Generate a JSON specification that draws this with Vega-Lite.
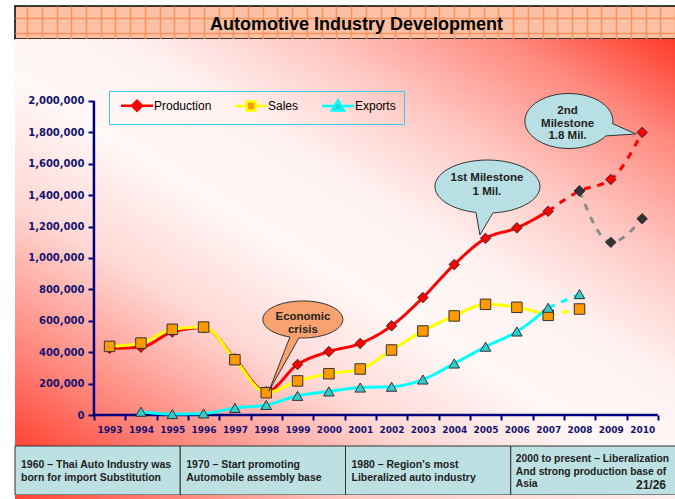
{
  "$schema": "https://vega.github.io/schema/vega-lite/v6.json",
  "padding": {"left": 14, "top": 5, "right": 0, "bottom": 0},
  "background": "white",
  "spacing": 0,
  "bounds": "flush",
  "config": {"view": {"stroke": "#000"}, "font": "Liberation Sans"},
  "datasets": {
    "banner": [{"title": "Automotive Industry Development"}],
    "series": [
      {"year": 1993, "series": "Production", "kind": "actual", "value": 424000},
      {"year": 1994, "series": "Production", "kind": "actual", "value": 432000},
      {"year": 1995, "series": "Production", "kind": "actual", "value": 528000},
      {"year": 1996, "series": "Production", "kind": "actual", "value": 556000},
      {"year": 1997, "series": "Production", "kind": "actual", "value": 358000},
      {"year": 1998, "series": "Production", "kind": "actual", "value": 148000},
      {"year": 1999, "series": "Production", "kind": "actual", "value": 322000},
      {"year": 2000, "series": "Production", "kind": "actual", "value": 404000},
      {"year": 2001, "series": "Production", "kind": "actual", "value": 456000},
      {"year": 2002, "series": "Production", "kind": "actual", "value": 568000},
      {"year": 2003, "series": "Production", "kind": "actual", "value": 748000},
      {"year": 2004, "series": "Production", "kind": "actual", "value": 958000},
      {"year": 2005, "series": "Production", "kind": "actual", "value": 1125000},
      {"year": 2006, "series": "Production", "kind": "actual", "value": 1192000},
      {"year": 2007, "series": "Production", "kind": "actual", "value": 1298000},
      {"year": 1993, "series": "Sales", "kind": "actual", "value": 437000},
      {"year": 1994, "series": "Sales", "kind": "actual", "value": 458000},
      {"year": 1995, "series": "Sales", "kind": "actual", "value": 546000},
      {"year": 1996, "series": "Sales", "kind": "actual", "value": 560000},
      {"year": 1997, "series": "Sales", "kind": "actual", "value": 352000},
      {"year": 1998, "series": "Sales", "kind": "actual", "value": 142000},
      {"year": 1999, "series": "Sales", "kind": "actual", "value": 217000},
      {"year": 2000, "series": "Sales", "kind": "actual", "value": 263000},
      {"year": 2001, "series": "Sales", "kind": "actual", "value": 293000},
      {"year": 2002, "series": "Sales", "kind": "actual", "value": 414000},
      {"year": 2003, "series": "Sales", "kind": "actual", "value": 535000},
      {"year": 2004, "series": "Sales", "kind": "actual", "value": 631000},
      {"year": 2005, "series": "Sales", "kind": "actual", "value": 705000},
      {"year": 2006, "series": "Sales", "kind": "actual", "value": 686000},
      {"year": 2007, "series": "Sales", "kind": "actual", "value": 635000},
      {"year": 1994, "series": "Exports", "kind": "actual", "value": 21000},
      {"year": 1995, "series": "Exports", "kind": "actual", "value": 6000},
      {"year": 1996, "series": "Exports", "kind": "actual", "value": 10000},
      {"year": 1997, "series": "Exports", "kind": "actual", "value": 45000},
      {"year": 1998, "series": "Exports", "kind": "actual", "value": 64000},
      {"year": 1999, "series": "Exports", "kind": "actual", "value": 122000},
      {"year": 2000, "series": "Exports", "kind": "actual", "value": 150000},
      {"year": 2001, "series": "Exports", "kind": "actual", "value": 175000},
      {"year": 2002, "series": "Exports", "kind": "actual", "value": 180000},
      {"year": 2003, "series": "Exports", "kind": "actual", "value": 226000},
      {"year": 2004, "series": "Exports", "kind": "actual", "value": 328000},
      {"year": 2005, "series": "Exports", "kind": "actual", "value": 435000},
      {"year": 2006, "series": "Exports", "kind": "actual", "value": 532000},
      {"year": 2007, "series": "Exports", "kind": "actual", "value": 683000},
      {"year": 2007, "series": "Production", "kind": "forecast", "value": 1298000},
      {"year": 2008, "series": "Production", "kind": "forecast", "value": 1427000},
      {"year": 2009, "series": "Production", "kind": "forecast", "value": 1500000},
      {"year": 2010, "series": "Production", "kind": "forecast", "value": 1800000},
      {"year": 2007, "series": "Sales", "kind": "forecast", "value": 635000},
      {"year": 2008, "series": "Sales", "kind": "forecast", "value": 675000},
      {"year": 2007, "series": "Exports", "kind": "forecast", "value": 683000},
      {"year": 2008, "series": "Exports", "kind": "forecast", "value": 770000},
      {"year": 2008, "series": "Revised", "kind": "forecast", "value": 1427000},
      {"year": 2009, "series": "Revised", "kind": "forecast", "value": 1100000},
      {"year": 2010, "series": "Revised", "kind": "forecast", "value": 1250000}
    ],
    "callouts": [
      {"note": "crisis", "year": 1998, "value": 148000, "label": ["Economic", "crisis"]},
      {"note": "m1", "year": 2005, "value": 1125000, "label": ["1st Milestone", "1 Mil."]},
      {"note": "m2", "year": 2010, "value": 1800000, "label": ["2nd", "Milestone", "1.8 Mil."]}
    ],
    "boxes": [
      {"era": "1960", "lines": ["1960 – Thai Auto Industry was", "born for import Substitution"], "page": null},
      {"era": "1970", "lines": ["1970 – Start  promoting", "Automobile assembly base"], "page": null},
      {"era": "1980", "lines": ["1980 – Region’s most", "Liberalized auto industry"], "page": null},
      {"era": "2000", "lines": ["2000 to present – Liberalization", "And strong production base of", "Asia"], "page": "21/26"}
    ]
  },
  "vconcat": [
    {
      "width": 661,
      "height": 33,
      "view": {"fill": "#fcc1a4", "stroke": "#000", "strokeWidth": 1.5},
      "data": {"name": "banner"},
      "layer": [
        {
          "mark": {"type": "point", "opacity": 0},
          "encoding": {
            "x": {"datum": 0, "type": "quantitative", "scale": {"domain": [-0.82, 44.06], "nice": false, "zero": false},
              "axis": {"values": [0,1,2,3,4,5,6,7,8,9,10,11,12,13,14,15,16,17,18,19,20,21,22,23,24,25,26,27,28,29,30,31,32,33,34,35,36,37,38,39,40,41,42,43,44], "grid": true, "gridColor": "#f6935e", "gridWidth": 1.5, "labels": false, "ticks": false, "domain": false, "title": null}},
            "y": {"datum": 0, "type": "quantitative", "scale": {"domain": [0, 33], "nice": false, "zero": false},
              "axis": {"values": [6, 21], "grid": true, "gridColor": "#f6935e", "gridWidth": 1.5, "labels": false, "ticks": false, "domain": false, "title": null}}
          }
        },
        {
          "mark": {"type": "text", "font": "Liberation Sans", "fontWeight": "bold", "fontSize": 18, "color": "#000", "baseline": "alphabetic", "align": "center", "dx": 11, "dy": 7},
          "encoding": {"text": {"field": "title"}}
        }
      ]
    },
    {
      "width": 661,
      "height": 407,
      "view": {"stroke": "#000"},
      "resolve": {
        "axis": {"x": "independent"},
        "scale": {"color": "independent", "fill": "independent", "shape": "independent", "size": "independent", "strokeDash": "independent", "stroke": "independent"}
      },
      "layer": [
        {
          "data": {"values": [{}]},
          "mark": {"type": "rect", "fill": {"gradient": "linear", "x1": 0, "y1": 1, "x2": 1, "y2": 0, "stops": [
            {"offset": 0, "color": "#ff4433"},
            {"offset": 0.12, "color": "#ff8378"},
            {"offset": 0.3, "color": "#ffd8d4"},
            {"offset": 0.45, "color": "#fff8f7"},
            {"offset": 0.58, "color": "#fff2f1"},
            {"offset": 0.72, "color": "#ffc8c3"},
            {"offset": 0.87, "color": "#ff8a7f"},
            {"offset": 1, "color": "#ff3a28"}]}},
          "encoding": {}
        },
        {
          "data": {"values": [{}]},
          "mark": {"type": "rule", "color": "#000080", "strokeWidth": 2.5},
          "encoding": {
            "x": {"datum": 1992.5, "type": "quantitative", "scale": {"domain": [1989.98, 2011.08], "nice": false, "zero": false},
              "axis": {"orient": "bottom", "values": [1992.5,1993.5,1994.5,1995.5,1996.5,1997.5,1998.5,1999.5,2000.5,2001.5,2002.5,2003.5,2004.5,2005.5,2006.5,2007.5,2008.5,2009.5,2010.5], "offset": -31, "domain": false, "labels": false, "ticks": true, "tickSize": 5, "tickWidth": 2, "tickColor": "#000080", "grid": false, "title": null, "zindex": 1}},
            "x2": {"datum": 2010.5},
            "y": {"datum": 0, "type": "quantitative", "scale": {"domain": [-197450, 2394900], "nice": false, "zero": false},
              "axis": {"orient": "left", "values": [0,200000,400000,600000,800000,1000000,1200000,1400000,1600000,1800000,2000000], "format": ",", "labelExpr": "format(datum.value, ',')", "offset": -79, "domain": false, "grid": false, "ticks": true, "tickSize": 6, "tickWidth": 2, "tickColor": "#000080", "labelFont": "DejaVu Sans", "labelFontWeight": "bold", "labelFontSize": 10, "labelColor": "#141470", "labelPadding": 4, "title": null, "zindex": 1}}
          }
        },
        {
          "data": {"values": [{}]},
          "mark": {"type": "rule", "color": "#000080", "strokeWidth": 2.5},
          "encoding": {
            "x": {"datum": 1992.5, "type": "quantitative", "scale": {"domain": [1989.98, 2011.08], "nice": false, "zero": false}, "axis": null},
            "y": {"datum": 0, "type": "quantitative", "scale": {"domain": [-197450, 2394900], "nice": false, "zero": false}},
            "y2": {"datum": 2000000}
          }
        },
        {
          "data": {"name": "series"},
          "mark": {"type": "line", "strokeWidth": 3, "interpolate": "monotone"},
          "encoding": {
            "x": {"field": "year", "type": "quantitative", "scale": {"domain": [1989.98, 2011.08], "nice": false, "zero": false},
              "axis": {"orient": "bottom", "values": [1993,1994,1995,1996,1997,1998,1999,2000,2001,2002,2003,2004,2005,2006,2007,2008,2009,2010], "format": "d", "offset": -31, "domain": false, "ticks": false, "tickSize": 0, "grid": false, "labelFont": "DejaVu Sans", "labelFontWeight": "bold", "labelFontSize": 9, "labelColor": "#141470", "labelPadding": 10, "labelOverlap": false, "labelFlush": false, "title": null, "zindex": 1}},
            "y": {"field": "value", "type": "quantitative", "scale": {"domain": [-197450, 2394900], "nice": false, "zero": false}},
            "color": {"field": "series", "type": "nominal",
              "scale": {"domain": ["Production", "Sales", "Exports", "Revised"], "range": ["#ff0000", "#ffff00", "#00ffff", "#8c8c8c"]},
              "legend": null},
            "strokeDash": {"field": "kind", "type": "nominal", "scale": {"domain": ["actual", "forecast"], "range": [[1, 0], [7, 7]]}, "legend": null}
          }
        },
        {
          "data": {"name": "series"},
          "transform": [{"filter": "datum.kind == 'actual' || datum.year > 2007"}],
          "mark": {"type": "point", "filled": true, "opacity": 1, "stroke": "#333", "strokeWidth": 1},
          "encoding": {
            "x": {"field": "year", "type": "quantitative", "scale": {"domain": [1989.98, 2011.08], "nice": false, "zero": false}, "axis": null},
            "y": {"field": "value", "type": "quantitative", "scale": {"domain": [-197450, 2394900], "nice": false, "zero": false}},
            "fill": {"field": "series", "type": "nominal",
              "scale": {"domain": ["Revised", "Production", "Sales", "Exports"], "range": ["#333333", "#ff0000", "#ff9900", "#33cccc"]},
              "legend": null},
            "shape": {"field": "series", "type": "nominal",
              "scale": {"domain": ["Revised", "Production", "Sales", "Exports"], "range": ["diamond", "diamond", "square", "triangle-up"]},
              "legend": null},
            "size": {"field": "series", "type": "nominal",
              "scale": {"domain": ["Revised", "Production", "Sales", "Exports"], "range": [110, 110, 90, 150]}, "legend": null}
          }
        },
        {
          "data": {"name": "callouts"},
          "transform": [{"filter": "datum.note == 'crisis'"}],
          "mark": {"type": "point", "shape": "M2.7,-0.8L32.7,-53.9A40,18.5 0 1 0 23.7,-54.8Z", "size": 4, "filled": true, "opacity": 1, "fill": "#f9a270", "stroke": "#333", "strokeWidth": 1},
          "encoding": {
            "x": {"field": "year", "type": "quantitative", "scale": {"domain": [1989.98, 2011.08], "nice": false, "zero": false}, "axis": null},
            "y": {"field": "value", "type": "quantitative", "scale": {"domain": [-197450, 2394900], "nice": false, "zero": false}}
          }
        },
        {
          "data": {"name": "callouts"},
          "transform": [{"filter": "datum.note == 'm1'"}],
          "mark": {"type": "point", "shape": "M-5.6,-3.4L7.4,-25.5A52.5,26.5 0 1 0 -9.6,-26Z", "size": 4, "filled": true, "opacity": 1, "fill": "#b8dfe3", "stroke": "#333", "strokeWidth": 1},
          "encoding": {
            "x": {"field": "year", "type": "quantitative", "scale": {"domain": [1989.98, 2011.08], "nice": false, "zero": false}, "axis": null},
            "y": {"field": "value", "type": "quantitative", "scale": {"domain": [-197450, 2394900], "nice": false, "zero": false}}
          }
        },
        {
          "data": {"name": "callouts"},
          "transform": [{"filter": "datum.note == 'm2'"}],
          "mark": {"type": "point", "shape": "M-6.3,1.6L-36.3,3.5A44,27.5 0 1 1 -29.5,-8.7Z", "size": 4, "filled": true, "opacity": 1, "fill": "#b8dfe3", "stroke": "#333", "strokeWidth": 1},
          "encoding": {
            "x": {"field": "year", "type": "quantitative", "scale": {"domain": [1989.98, 2011.08], "nice": false, "zero": false}, "axis": null},
            "y": {"field": "value", "type": "quantitative", "scale": {"domain": [-197450, 2394900], "nice": false, "zero": false}}
          }
        },
        {
          "data": {"name": "callouts"},
          "transform": [{"filter": "datum.note == 'crisis'"}],
          "mark": {"type": "text", "font": "Liberation Sans", "fontWeight": "bold", "fontSize": 11.5, "color": "#222", "align": "center", "baseline": "middle", "lineHeight": 13.3, "dx": 36.7, "dy": -74.8},
          "encoding": {
            "x": {"field": "year", "type": "quantitative", "scale": {"domain": [1989.98, 2011.08], "nice": false, "zero": false}, "axis": null},
            "y": {"field": "value", "type": "quantitative", "scale": {"domain": [-197450, 2394900], "nice": false, "zero": false}},
            "text": {"field": "label"}
          }
        },
        {
          "data": {"name": "callouts"},
          "transform": [{"filter": "datum.note == 'm1'"}],
          "mark": {"type": "text", "font": "Liberation Sans", "fontWeight": "bold", "fontSize": 11.5, "color": "#222", "align": "center", "baseline": "middle", "lineHeight": 14, "dx": 1.4, "dy": -60.4},
          "encoding": {
            "x": {"field": "year", "type": "quantitative", "scale": {"domain": [1989.98, 2011.08], "nice": false, "zero": false}, "axis": null},
            "y": {"field": "value", "type": "quantitative", "scale": {"domain": [-197450, 2394900], "nice": false, "zero": false}},
            "text": {"field": "label"}
          }
        },
        {
          "data": {"name": "callouts"},
          "transform": [{"filter": "datum.note == 'm2'"}],
          "mark": {"type": "text", "font": "Liberation Sans", "fontWeight": "bold", "fontSize": 11.5, "color": "#222", "align": "center", "baseline": "middle", "lineHeight": 12.7, "dx": -74.6, "dy": -21.4},
          "encoding": {
            "x": {"field": "year", "type": "quantitative", "scale": {"domain": [1989.98, 2011.08], "nice": false, "zero": false}, "axis": null},
            "y": {"field": "value", "type": "quantitative", "scale": {"domain": [-197450, 2394900], "nice": false, "zero": false}},
            "text": {"field": "label"}
          }
        },
        {
          "data": {"name": "series"},
          "transform": [{"filter": "false"}],
          "mark": {"type": "point", "filled": true, "opacity": 1, "strokeWidth": 2.5},
          "encoding": {
            "x": {"field": "year", "type": "quantitative", "scale": {"domain": [1989.98, 2011.08], "nice": false, "zero": false}, "axis": null},
            "y": {"field": "value", "type": "quantitative", "scale": {"domain": [-197450, 2394900], "nice": false, "zero": false}},
            "shape": {"field": "series", "type": "nominal",
              "scale": {"domain": ["Production", "Sales", "Exports"], "range": [
                "M-3.2,0H-1M1,0H3.2M0,-1L1,0L0,1L-1,0Z",
                "M-3.2,0H-0.9M0.9,0H3.2M-0.9,-0.9H0.9V0.9H-0.9Z",
                "M-3.2,0H-0.66M0.66,0H3.2M0,-1.1L1.2,0.9L-1.2,0.9Z"]},
              "legend": {"values": ["Production", "Sales", "Exports"], "orient": "none", "legendX": 94, "legendY": 52, "direction": "horizontal", "title": null,
                "symbolSize": 100, "symbolStrokeWidth": 2.5, "symbolOffset": 13.5, "labelOffset": 10.5,
                "labelFont": "Liberation Sans", "labelFontSize": 12, "labelColor": "#000", "columnPadding": 18, "padding": 8,
                "strokeColor": "#33ccee"}},
            "fill": {"field": "series", "type": "nominal",
              "scale": {"domain": ["Production", "Sales", "Exports"], "range": ["#ff0000", "#ff9900", "#33cccc"]},
              "legend": {"values": ["Production", "Sales", "Exports"], "orient": "none", "legendX": 94, "legendY": 52, "direction": "horizontal", "title": null,
                "symbolSize": 100, "symbolStrokeWidth": 2.5, "symbolOffset": 13.5, "labelOffset": 10.5,
                "labelFont": "Liberation Sans", "labelFontSize": 12, "labelColor": "#000", "columnPadding": 18, "padding": 8,
                "strokeColor": "#33ccee"}},
            "stroke": {"field": "series", "type": "nominal",
              "scale": {"domain": ["Production", "Sales", "Exports"], "range": ["#ff0000", "#ffff00", "#00ffff"]},
              "legend": {"values": ["Production", "Sales", "Exports"], "orient": "none", "legendX": 94, "legendY": 52, "direction": "horizontal", "title": null,
                "symbolSize": 100, "symbolStrokeWidth": 2.5, "symbolOffset": 13.5, "labelOffset": 10.5,
                "labelFont": "Liberation Sans", "labelFontSize": 12, "labelColor": "#000", "columnPadding": 18, "padding": 8,
                "strokeColor": "#33ccee"}}
          }
        }
      ]
    },
    {
      "width": 661,
      "height": 49,
      "view": {"stroke": null},
      "data": {"name": "boxes"},
      "layer": [
        {
          "mark": {"type": "rect", "fill": "#bde0e3", "stroke": "#333", "strokeWidth": 1},
          "encoding": {
            "x": {"field": "era", "type": "nominal", "sort": null, "scale": {"paddingInner": 0, "paddingOuter": 0}, "axis": null}
          }
        },
        {
          "transform": [{"filter": "datum.page == null"}],
          "mark": {"type": "text", "align": "left", "baseline": "middle", "dx": 6, "dy": -5.5, "font": "Liberation Sans", "fontWeight": "bold", "fontSize": 10.5, "color": "#222", "lineHeight": 13},
          "encoding": {
            "x": {"field": "era", "type": "nominal", "sort": null, "bandPosition": 0, "axis": null},
            "text": {"field": "lines"}
          }
        },
        {
          "transform": [{"filter": "datum.page != null"}],
          "mark": {"type": "text", "align": "left", "baseline": "middle", "dx": 5, "dy": -11.5, "font": "Liberation Sans", "fontWeight": "bold", "fontSize": 10.3, "color": "#222", "lineHeight": 12.5},
          "encoding": {
            "x": {"field": "era", "type": "nominal", "sort": null, "bandPosition": 0, "axis": null},
            "text": {"field": "lines"}
          }
        },
        {
          "transform": [{"filter": "datum.page != null"}],
          "mark": {"type": "text", "align": "right", "baseline": "middle", "dx": -10, "dy": 14, "font": "Liberation Sans", "fontWeight": "bold", "fontSize": 12, "color": "#222"},
          "encoding": {
            "x": {"field": "era", "type": "nominal", "sort": null, "bandPosition": 1, "axis": null},
            "text": {"field": "page"}
          }
        }
      ]
    },
    {
      "width": 661,
      "height": 4,
      "view": {"stroke": null},
      "data": {"values": [{}]},
      "mark": {"type": "rect", "fill": {"gradient": "linear", "x1": 0, "y1": 0, "x2": 1, "y2": 0, "stops": [
        {"offset": 0, "color": "#ff4433"},
        {"offset": 0.5, "color": "#ffc8c2"},
        {"offset": 1, "color": "#ffeeee"}]}},
      "encoding": {}
    }
  ]
}
